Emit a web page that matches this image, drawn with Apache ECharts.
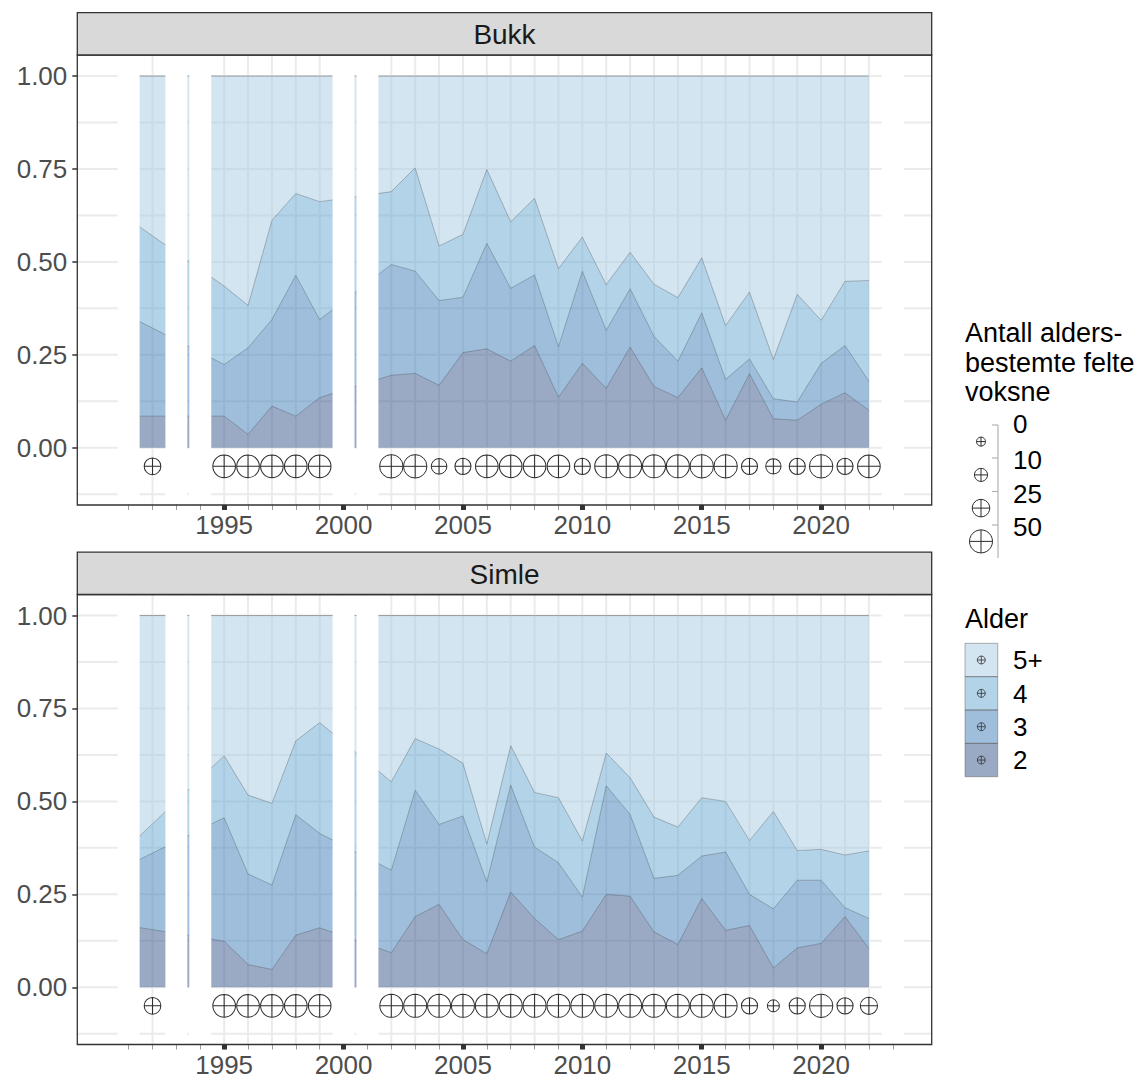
<!DOCTYPE html>
<html>
<head>
<meta charset="utf-8">
<script src="https://cdn.jsdelivr.net/npm/echarts@6/dist/echarts.min.js"></script>
<style>html,body{margin:0;padding:0;background:#fff}#c{width:1145px;height:1078px}</style>
</head>
<body>
<div id="c"></div>
<script>
// ---------- data ----------
const years = [1991,1992,1995,1996,1997,1998,1999,2002,2003,2004,2005,2006,2007,2008,2009,2010,2011,2012,2013,2014,2015,2016,2017,2018,2019,2020,2021,2022];

const bukkAge2 = [0.085,0.085,0.085,0.036,0.112,0.085,0.135,0.195,0.200,0.168,0.256,0.266,0.233,0.275,0.136,0.227,0.160,0.271,0.165,0.135,0.215,0.074,0.199,0.078,0.074,0.117,0.148,0.101];
const bukkAge3 = [0.270,0.237,0.139,0.233,0.233,0.379,0.210,0.298,0.275,0.228,0.149,0.284,0.196,0.190,0.136,0.248,0.156,0.157,0.135,0.098,0.148,0.110,0.040,0.054,0.049,0.110,0.127,0.078];
const bukkAge4 = [0.260,0.248,0.211,0.114,0.267,0.220,0.317,0.196,0.278,0.147,0.169,0.199,0.179,0.206,0.210,0.092,0.123,0.098,0.140,0.171,0.148,0.145,0.180,0.106,0.290,0.116,0.173,0.271];
const bukkAge5 = [0.385,0.430,0.565,0.617,0.388,0.316,0.338,0.311,0.247,0.457,0.426,0.251,0.392,0.329,0.518,0.433,0.561,0.474,0.560,0.596,0.489,0.671,0.581,0.762,0.587,0.657,0.552,0.550];
const bukkN    = [null,22,48,48,48,48,48,52,52,18,20,48,48,48,48,20,50,50,50,50,52,52,20,17,20,52,20,48];

const simleAge2 = [0.165,0.155,0.124,0.061,0.048,0.140,0.160,0.093,0.190,0.223,0.128,0.090,0.256,0.185,0.128,0.151,0.250,0.245,0.149,0.115,0.239,0.153,0.166,0.052,0.106,0.118,0.190,0.104];
const simleAge3 = [0.164,0.206,0.332,0.244,0.227,0.324,0.254,0.222,0.340,0.215,0.333,0.194,0.288,0.192,0.207,0.092,0.292,0.220,0.144,0.186,0.114,0.211,0.084,0.159,0.182,0.170,0.024,0.081];
const simleAge4 = [0.050,0.079,0.167,0.212,0.220,0.199,0.298,0.238,0.139,0.203,0.142,0.102,0.106,0.147,0.175,0.151,0.088,0.099,0.165,0.130,0.157,0.136,0.145,0.262,0.080,0.083,0.142,0.182];
const simleAge5 = [0.621,0.560,0.377,0.483,0.505,0.337,0.288,0.447,0.331,0.359,0.397,0.614,0.350,0.476,0.490,0.606,0.370,0.436,0.542,0.569,0.490,0.500,0.605,0.527,0.632,0.629,0.644,0.633];
const simleN    = [null,22,48,48,48,48,48,50,50,50,50,50,50,50,50,50,50,50,50,50,50,50,20,7,20,52,20,24];

const gapYears   = [1991,1993,1994,2000,2001,2023];
const majorYears = [1995,2000,2005,2010,2015,2020];
const minorYears = [1991,1992,1993,1994,1995,1996,1997,1998,1999,2000,2001,2002,2003,2004,2005,2006,2007,2008,2009,2010,2011,2012,2013,2014,2015,2016,2017,2018,2019,2020,2021,2022,2023];
const yBreaks = [0,0.25,0.5,0.75,1];
const yGrid   = [-0.125,0,0.125,0.25,0.375,0.5,0.625,0.75,0.875,1];
const panelNames = ['Bukk','Simle'];
const ageNames = ['2','3','4','5+'];
const sizeBreaks = [0,10,25,50];
const sizeTitleLines = ['Antall alders-','bestemte felte','voksne'];
const fillTitle = 'Alder';
const countRowY = -0.05;

// ---------- styles / layout ----------
const FONT = '"Liberation Sans", Arial, Helvetica, sans-serif';
const ageFill = {'2':'rgba(53,85,139,0.5)','3':'rgba(61,125,183,0.5)','4':'rgba(103,167,209,0.5)','5+':'rgba(167,203,227,0.5)'};
const edgeColor = 'rgba(90,90,90,0.55)';
const X_MIN = 1988.85, X_MAX = 2024.63, Y_MIN = -0.154, Y_MAX = 1.0565;
const L = 77.3, W = 854.4, H = 450;
const panels = [{top:55, stripTop:12.7},{top:594.5, stripTop:552.2}];
const PLUS = 'path://M0,-10A10,10,0,1,1,0,10A10,10,0,1,1,0,-10ZM-10,0L10,0M0,-10L0,10';
const sizeFn = n => Math.sqrt(81 + 9 * n);

const panelData = [
  {ages:[bukkAge2,bukkAge3,bukkAge4,bukkAge5], n:bukkN},
  {ages:[simleAge2,simleAge3,simleAge4,simleAge5], n:simleN}
];

const grid = [], xAxis = [], yAxis = [], series = [], graphics = [];

panels.forEach((p, gi) => {
  grid.push({left:L, top:p.top, width:W, height:H, show:false, containLabel:false, outerBoundsMode:'none'});
  xAxis.push({gridIndex:gi, type:'value', min:X_MIN, max:X_MAX, position:'bottom',
    axisLine:{show:false, onZero:false}, splitLine:{show:false},
    axisTick:{show:true, customValues:minorYears, length:5, lineStyle:{color:'#9a9a9a', width:1}},
    axisLabel:{show:false}});
  xAxis.push({gridIndex:gi, type:'value', min:X_MIN, max:X_MAX, position:'bottom',
    axisLine:{show:false, onZero:false}, splitLine:{show:false},
    axisTick:{show:true, customValues:majorYears, length:5, lineStyle:{color:'#333', width:5}},
    axisLabel:{show:true, customValues:majorYears, formatter:v => String(v), fontSize:26, lineHeight:20, color:'#4d4d4d', fontFamily:FONT, margin:10}});
  yAxis.push({gridIndex:gi, type:'value', min:Y_MIN, max:Y_MAX,
    axisLine:{show:false, onZero:false}, splitLine:{show:false},
    axisTick:{show:true, customValues:yBreaks, length:5, lineStyle:{color:'#333', width:1.5}},
    axisLabel:{show:true, customValues:yBreaks, formatter:v => v.toFixed(2), fontSize:26, color:'#4d4d4d', fontFamily:FONT, margin:10}});

  // gridlines (below areas)
  series.push({type:'custom', xAxisIndex:gi*2, yAxisIndex:gi, z:1, silent:true, animation:false,
    data:[[2000,0.5]],
    renderItem:function(params, api){
      const cs = params.coordSys;
      const ch = [];
      yGrid.forEach(v => {
        const y = api.coord([X_MIN, v])[1];
        ch.push({type:'line', shape:{x1:cs.x, y1:y, x2:cs.x+cs.width, y2:y}, style:{stroke:'#ebebeb', lineWidth:2}});
      });
      minorYears.forEach(yr => {
        const x = api.coord([yr, 0])[0];
        ch.push({type:'line', shape:{x1:x, y1:cs.y, x2:x, y2:cs.y+cs.height}, style:{stroke:'#ebebeb', lineWidth:2}});
      });
      return {type:'group', children:ch};
    }});

  // stacked areas (each layer between cumulative lower and upper bounds)
  const d = panelData[gi];
  ageNames.forEach((age, ai) => {
    const lower = years.map((y, i) => { let s = 0; for (let k = 0; k < ai; k++) s += d.ages[k][i]; return s; });
    const upper = years.map((y, i) => lower[i] + d.ages[ai][i]);
    series.push({type:'custom', name:age, xAxisIndex:gi*2, yAxisIndex:gi, z:2, silent:true, animation:false,
      data:[[years[0], 0]],
      renderItem:function(params, api){
        const top = years.map((y, i) => api.coord([y, upper[i]]));
        const bot = years.map((y, i) => api.coord([y, lower[i]])).reverse();
        return {type:'group', children:[
          {type:'polygon', shape:{points: top.concat(bot)}, style:{fill: ageFill[age]}},
          {type:'polyline', shape:{points: top}, style:{fill:'none', stroke: edgeColor, lineWidth:0.9}}
        ]};
      }});
  });

  // count markers
  series.push({type:'scatter', xAxisIndex:gi*2, yAxisIndex:gi, z:3, silent:true, animation:false,
    symbol:PLUS, symbolSize:v => sizeFn(v[2]),
    itemStyle:{color:'rgba(0,0,0,0)', borderColor:'#2b2b2b', borderWidth:1, opacity:1},
    data: years.map((y, i) => [y, countRowY, d.n[i]]).filter(r => r[2] != null)});

  // white bands for missing years
  series.push({type:'custom', xAxisIndex:gi*2, yAxisIndex:gi, z:5, silent:true, animation:false,
    data: gapYears.map(y => [y, 0.5]),
    renderItem:function(params, api){
      const cs = params.coordSys;
      const yr = api.value(0);
      const a = api.coord([yr - 0.46, 0])[0], b = api.coord([yr + 0.46, 0])[0];
      return {type:'rect', shape:{x:a, y:cs.y+1, width:b-a, height:cs.height-2}, style:{fill:'#ffffff'}};
    }});

  // panel border + strip
  graphics.push({type:'rect', z:50, silent:true, shape:{x:L, y:p.top, width:W, height:H}, style:{fill:'none', stroke:'#333', lineWidth:1.3}});
  graphics.push({type:'rect', z:50, silent:true, shape:{x:L, y:p.stripTop, width:W, height:p.top-p.stripTop}, style:{fill:'#d9d9d9', stroke:'#333', lineWidth:1.3}});
  graphics.push({type:'text', z:51, silent:true, x:L+W/2, y:(p.stripTop+p.top)/2+1,
    style:{text:panelNames[gi], fontSize:28, fontFamily:FONT, fill:'#1a1a1a', align:'center', verticalAlign:'middle'}});
});

// ---------- legends ----------
function oplus(cx, cy, dd, stroke, lw){
  const r = dd/2;
  return [
    {type:'circle', z:60, silent:true, shape:{cx:cx, cy:cy, r:r}, style:{fill:'none', stroke:stroke, lineWidth:lw}},
    {type:'line', z:60, silent:true, shape:{x1:cx-r, y1:cy, x2:cx+r, y2:cy}, style:{stroke:stroke, lineWidth:lw}},
    {type:'line', z:60, silent:true, shape:{x1:cx, y1:cy-r, x2:cx, y2:cy+r}, style:{stroke:stroke, lineWidth:lw}}
  ];
}
// size legend
const titleLineY = [333, 362.5, 391.5];
sizeTitleLines.forEach((t, i) => {
  graphics.push({type:'text', z:60, silent:true, x:965, y:titleLineY[i],
    style:{text:t, fontSize:27, lineHeight:26, fontFamily:FONT, fill:'#000', align:'left', verticalAlign:'middle'}});
});
const sizeKeyY = [441.6, 474.9, 508.1, 541.4];
const sizeLabelY = [423.5, 460, 493.5, 526.5];
const sizeTickY = [425, 458, 491.5, 525];
sizeBreaks.forEach((b, i) => {
  oplus(981, sizeKeyY[i], sizeFn(b), '#2b2b2b', 1).forEach(e => graphics.push(e));
  graphics.push({type:'line', z:60, silent:true, shape:{x1:992, y1:sizeTickY[i], x2:998, y2:sizeTickY[i]}, style:{stroke:'#b3b3b3', lineWidth:1.2}});
  graphics.push({type:'text', z:60, silent:true, x:1013, y:sizeLabelY[i],
    style:{text:String(b), fontSize:26, lineHeight:20, fontFamily:FONT, fill:'#000', align:'left', verticalAlign:'middle'}});
});
graphics.push({type:'line', z:60, silent:true, shape:{x1:998, y1:425, x2:998, y2:558}, style:{stroke:'#b3b3b3', lineWidth:1.2}});

// fill legend
graphics.push({type:'text', z:60, silent:true, x:965, y:619,
  style:{text:fillTitle, fontSize:27, fontFamily:FONT, fill:'#000', align:'left', verticalAlign:'middle'}});
const legendOrder = ['5+','4','3','2'];
legendOrder.forEach((age, i) => {
  const top = 643.3 + i*33.35;
  graphics.push({type:'rect', z:60, silent:true, shape:{x:965, y:top, width:32.7, height:33.35}, style:{fill:'#ffffff'}});
  graphics.push({type:'rect', z:61, silent:true, shape:{x:965, y:top, width:32.7, height:33.35}, style:{fill:ageFill[age]}});
  graphics.push({type:'rect', z:62, silent:true, shape:{x:965, y:top, width:32.7, height:33.35}, style:{fill:'none', stroke:'rgba(90,90,90,0.45)', lineWidth:1}});
  oplus(981.3, top + 16.7, 8, '#333', 0.8).forEach(e => { e.z = 63; graphics.push(e); });
  graphics.push({type:'text', z:60, silent:true, x:1013, y:top + 17,
    style:{text:age, fontSize:26, lineHeight:22, fontFamily:FONT, fill:'#000', align:'left', verticalAlign:'middle'}});
});

const chart = echarts.init(document.getElementById('c'), null, {renderer:'svg', width:1145, height:1078});
chart.setOption({
  backgroundColor:'#ffffff',
  animation:false,
  grid:grid, xAxis:xAxis, yAxis:yAxis, series:series,
  graphic:{elements:graphics}
});
</script>
</body>
</html>
